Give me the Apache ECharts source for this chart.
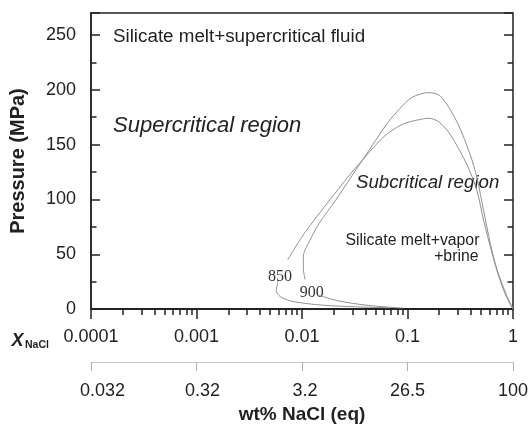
<!DOCTYPE html>
<html>
<head>
<meta charset="utf-8">
<script src="https://cdn.jsdelivr.net/npm/echarts@6/dist/echarts.min.js"></script>
<style>
html,body{margin:0;padding:0;background:#fff;}
#chart{width:531px;height:429px;}
</style>
</head>
<body>
<div id="chart"></div>
<script>
// ---- data (x = mole fraction NaCl, y = pressure MPa) ----
const xMajorTicks = [0.0001, 0.001, 0.01, 0.1, 1];
const xTickLabels = ['0.0001', '0.001', '0.01', '0.1', '1'];
const wtTickLabels = ['0.032', '0.32', '3.2', '26.5', '100'];
const xMinorTicks = [
  0.0002, 0.0003, 0.0004, 0.0005, 0.0006, 0.0007, 0.0008, 0.0009,
  0.002, 0.003, 0.004, 0.005, 0.006, 0.007, 0.008, 0.009,
  0.02, 0.03, 0.04, 0.05, 0.06, 0.07, 0.08, 0.09,
  0.2, 0.3, 0.4, 0.5, 0.6, 0.7, 0.8, 0.9
];
const yMin = 0, yMax = 270, yInterval = 50;

// 850 °C solvus: main branch (from label end, over the crest, down to pure NaCl) and low-pressure tail
const curve850Upper = [
  [0.0073, 45], [0.0107, 70], [0.0185, 100], [0.027, 120], [0.0375, 136], [0.0552, 154],
  [0.0678, 161.5], [0.092, 169], [0.125, 172.5], [0.16, 174], [0.2, 170.5],
  [0.255, 159], [0.367, 131.5], [0.456, 107.7], [0.527, 80.8], [0.634, 50.8],
  [0.732, 29.9], [0.86, 12], [1, 0]
];
const curve850Lower = [
  [0.00593, 25.4], [0.00571, 17], [0.0062, 11.5], [0.0075, 8], [0.0086, 6.5],
  [0.0155, 3.6], [0.0323, 2.1], [0.068, 1.2]
];
// 900 °C solvus
const curve900Upper = [
  [0.0107, 27], [0.0103, 37], [0.0103, 48], [0.0118, 62], [0.0145, 78],
  [0.0211, 100], [0.0285, 119], [0.0375, 136], [0.05, 154], [0.065, 170],
  [0.085, 183], [0.11, 193], [0.158, 197.4], [0.205, 194.3], [0.295, 170.5],
  [0.394, 140.5], [0.456, 119.6], [0.527, 89.7], [0.61, 59.8], [0.707, 35.9],
  [0.85, 15], [1, 0]
];
const curve900Lower = [
  [0.01436, 12.6], [0.0224, 7.4], [0.0404, 3.6], [0.0728, 1.5], [0.09, 1.0]
];

// ---- chart ----
const FONT = '"Liberation Sans", Arial, Helvetica, sans-serif';
const SERIF = '"Liberation Serif", "Times New Roman", serif';
const INK = '#222';

function tickIndex(v) {
  for (let i = 0; i < xMajorTicks.length; i++) {
    if (Math.abs(Math.log10(v) - Math.log10(xMajorTicks[i])) < 1e-6) return i;
  }
  return -1;
}
function lookup(labels) {
  return function (v) { const i = tickIndex(v); return i < 0 ? '' : labels[i]; };
}
// small horizontal nudges of the wt% labels as placed in the original figure
const wtShift = [23, 12, 6, 0, 0];
const wtRich = {};
wtShift.forEach(function (s, i) {
  wtRich['w' + i] = { padding: [0, 0, 0, s], fontSize: 18, fontFamily: FONT, color: INK };
});

const lineStyle = { color: '#909090', width: 1 };
function curve(data) {
  return {
    type: 'line', data: data, xAxisIndex: 0, yAxisIndex: 0,
    showSymbol: false, symbol: 'none', smooth: 0.3,
    lineStyle: lineStyle, silent: true, animation: false
  };
}

const chart = echarts.init(document.getElementById('chart'), null, { renderer: 'canvas' });
chart.setOption({
  animation: false,
  backgroundColor: '#fff',
  grid: { left: 91, right: 18, top: 13, bottom: 116, show: true, borderColor: INK, borderWidth: 1.5, backgroundColor: 'transparent' },
  xAxis: [
    {
      type: 'log', logBase: 10, min: xMajorTicks[0], max: xMajorTicks[xMajorTicks.length - 1],
      position: 'bottom',
      axisLine: { show: true, lineStyle: { color: INK, width: 2 } },
      axisTick: { show: true, customValues: xMajorTicks, length: 10, inside: false, lineStyle: { color: INK, width: 1.5 } },
      axisLabel: { show: true, customValues: xMajorTicks, formatter: lookup(xTickLabels), fontSize: 18, fontFamily: FONT, color: INK, margin: 19 },
      splitLine: { show: false }, minorTick: { show: false }
    },
    {
      type: 'log', logBase: 10, min: xMajorTicks[0], max: xMajorTicks[xMajorTicks.length - 1],
      position: 'bottom',
      axisLine: { show: false },
      axisTick: { show: true, customValues: xMinorTicks, length: 6, inside: false, lineStyle: { color: INK, width: 1.5 } },
      axisLabel: { show: false },
      splitLine: { show: false }
    },
    {
      type: 'log', logBase: 10, min: xMajorTicks[0], max: xMajorTicks[xMajorTicks.length - 1],
      position: 'bottom', offset: 53,
      axisLine: { show: true, lineStyle: { color: '#c8c8c8', width: 1 } },
      axisTick: { show: true, customValues: xMajorTicks, length: 9, inside: false, lineStyle: { color: '#b0b0b0', width: 1 } },
      axisLabel: {
        show: true, customValues: xMajorTicks,
        formatter: function (v) { const i = tickIndex(v); return i < 0 ? '' : '{w' + i + '|' + wtTickLabels[i] + '}'; },
        rich: wtRich, fontSize: 18, fontFamily: FONT, color: INK, margin: 20
      },
      splitLine: { show: false },
      name: 'wt% NaCl (eq)', nameLocation: 'middle', nameGap: 38,
      nameTextStyle: { fontSize: 19, fontWeight: 'bold', fontFamily: FONT, color: INK }
    }
  ],
  yAxis: [
    {
      type: 'value', min: yMin, max: yMax, interval: yInterval, position: 'left',
      axisLine: { show: true, lineStyle: { color: INK, width: 1.5 } },
      axisTick: { show: true, inside: true, length: 9, lineStyle: { color: INK, width: 1.5 } },
      minorTick: { show: true, splitNumber: 2, length: 5.5, lineStyle: { color: INK, width: 1.5 } },
      axisLabel: { show: true, fontSize: 18, fontFamily: FONT, color: INK, margin: 15, showMaxLabel: false },
      splitLine: { show: false },
      name: 'Pressure (MPa)', nameLocation: 'middle', nameGap: 63, nameRotate: 90,
      nameTextStyle: { fontSize: 20, fontWeight: 'bold', fontFamily: FONT, color: INK }
    },
    {
      type: 'value', min: yMin, max: yMax, interval: yInterval, position: 'right',
      axisLine: { show: false },
      axisTick: { show: true, inside: true, length: 9, lineStyle: { color: INK, width: 1.5 } },
      minorTick: { show: true, splitNumber: 2, length: 5.5, lineStyle: { color: INK, width: 1.5 } },
      axisLabel: { show: false },
      splitLine: { show: false }
    }
  ],
  series: [
    curve(curve850Upper), curve(curve850Lower),
    curve(curve900Upper), curve(curve900Lower)
  ],
  graphic: [
    { type: 'text', x: 113, y: 37, style: { text: 'Silicate melt+supercritical fluid', font: '18.8px ' + FONT, fill: INK, verticalAlign: 'middle', align: 'left' } },
    { type: 'text', x: 113, y: 126, style: { text: 'Supercritical region', font: 'italic 22px ' + FONT, fill: INK, verticalAlign: 'middle', align: 'left' } },
    { type: 'text', x: 356, y: 183, style: { text: 'Subcritical region', font: 'italic 18.7px ' + FONT, fill: INK, verticalAlign: 'middle', align: 'left' } },
    { type: 'text', x: 345.5, y: 241, style: { text: 'Silicate melt+vapor', font: '15.8px ' + FONT, fill: INK, verticalAlign: 'middle', align: 'left' } },
    { type: 'text', x: 478.5, y: 257, style: { text: '+brine', font: '15.8px ' + FONT, fill: INK, verticalAlign: 'middle', align: 'right' } },
    { type: 'text', x: 280, y: 277, style: { text: '850', font: '16px ' + SERIF, fill: '#333', verticalAlign: 'middle', align: 'center' } },
    { type: 'text', x: 311.7, y: 292.5, style: { text: '900', font: '16px ' + SERIF, fill: '#333', verticalAlign: 'middle', align: 'center' } },
    { type: 'text', x: 11.5, y: 341.5, style: { text: 'X', font: 'italic bold 18px ' + FONT, fill: INK, verticalAlign: 'middle', align: 'left' } },
    { type: 'text', x: 25, y: 345.5, style: { text: 'NaCl', font: 'bold 10.5px ' + FONT, fill: INK, verticalAlign: 'middle', align: 'left' } }
  ]
});
</script>
</body>
</html>
